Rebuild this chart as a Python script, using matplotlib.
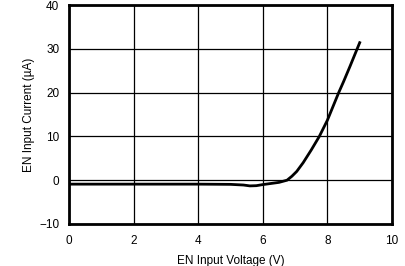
import matplotlib
matplotlib.use('Agg')
import matplotlib.pyplot as plt

# EN input current vs voltage
voltage = [0, 1, 2, 3, 4, 5, 5.4, 5.6, 5.8, 6.0, 6.2, 6.5, 6.75, 6.9, 7.05, 7.25, 7.5, 7.75, 8.0, 8.15, 8.35, 8.5, 8.7, 9.0]
current = [-0.9, -0.9, -0.9, -0.9, -0.9, -0.95, -1.1, -1.3, -1.25, -1.0, -0.8, -0.5, 0.0, 0.9, 2.0, 4.0, 6.9, 10.0, 13.7, 16.4, 20.0, 22.5, 26.0, 31.4]

xticks = [0, 2, 4, 6, 8, 10]
yticks = [-10, 0, 10, 20, 30, 40]

plt.rcParams['font.family'] = ['Liberation Sans', 'DejaVu Sans']
plt.rcParams['font.size'] = 8.5

fig = plt.figure(figsize=(4.06, 2.66), dpi=100)
ax = fig.add_axes([69 / 406, 1 - 224 / 266, (392 - 69) / 406, (224 - 5) / 266])

ax.plot(voltage, current, color='black', lw=2)

ax.set_xlim(0, 10)
ax.set_ylim(-10, 40)
ax.set_xticks(xticks)
ax.set_yticks(yticks)
ax.set_yticklabels([str(t).replace('-', '\u2212') for t in yticks])
ax.tick_params(axis='x', length=0, pad=8)
ax.tick_params(axis='y', length=0, pad=7)
ax.grid(True, color='black', lw=0.9)
for s in ax.spines.values():
    s.set_linewidth(2)

ax.set_xlabel('EN Input Voltage (V)', labelpad=6)
ax.set_ylabel('EN Input Current (\u00b5A)', labelpad=3)

fig.savefig('out.png', dpi=100)
